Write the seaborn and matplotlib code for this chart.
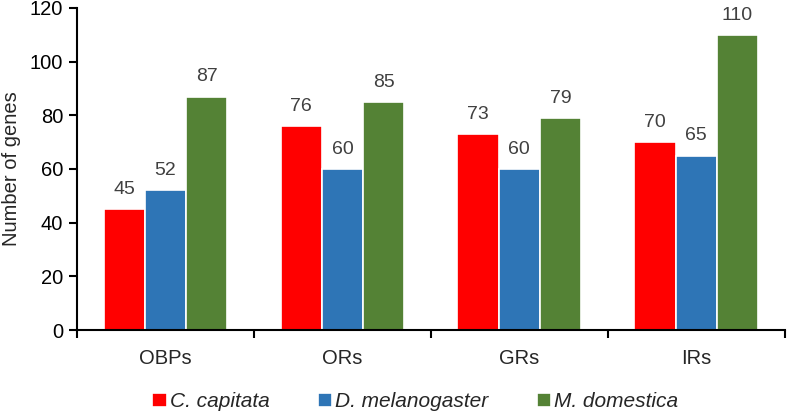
import numpy as np
import pandas as pd
import matplotlib.pyplot as plt
import seaborn as sns

families = ["OBPs", "ORs", "GRs", "IRs"]
species = ["C. capitata", "D. melanogaster", "M. domestica"]
c_capitata = [45, 76, 73, 70]
d_melanogaster = [52, 60, 60, 65]
m_domestica = [87, 85, 79, 110]

COLORS = ["#FF0000", "#2E75B6", "#548235"]

df = pd.DataFrame({
    "family": families * 3,
    "species": [species[0]] * 4 + [species[1]] * 4 + [species[2]] * 4,
    "genes": c_capitata + d_melanogaster + m_domestica,
})

sns.set_theme(style="white")
plt.rcParams["font.family"] = ["Liberation Sans", "DejaVu Sans"]

fig = plt.figure(figsize=(7.87, 4.18), dpi=100)
ax = fig.add_axes([0.098, 0.2105, 0.899, 0.7705])

sns.barplot(data=df, x="family", y="genes", hue="species", order=families,
            hue_order=species, palette=COLORS, width=0.7, ax=ax,
            edgecolor="white", linewidth=1.2, saturation=1)

for cont in ax.containers:
    ax.bar_label(cont, labels=[f"{int(v.get_height())}" for v in cont],
                 padding=8, fontsize=14, color="#404040")

ax.set_ylim(0, 120)
ax.set_xlim(-0.5, 3.5)
ax.set_yticks(range(0, 121, 20))
ax.tick_params(axis="y", labelsize=14.5, length=6, width=1.5, direction="out",
               left=True, color="black", labelcolor="black", pad=4)
ax.set_xticks(range(4))
ax.set_xticklabels(families)
ax.tick_params(axis="x", which="major", length=0, labelsize=14.5, pad=14)
ax.set_xticks(np.arange(-0.5, 4.0, 1.0), minor=True)
ax.tick_params(axis="x", which="minor", length=6, width=1.5, direction="out",
               bottom=True, color="black")
ax.set_xlabel("")
ax.set_ylabel("Number of genes", fontsize=14.5)
ax.yaxis.set_label_coords(-0.098 + 13.5 / 706, 0.5)

for s in ["top", "right"]:
    ax.spines[s].set_visible(False)
for s in ["left", "bottom"]:
    ax.spines[s].set_color("black")
    ax.spines[s].set_linewidth(1.5)

handles, labels = ax.get_legend_handles_labels()
ax.legend(handles, labels, loc="lower center", bbox_to_anchor=(0.478, -0.31),
          ncol=3, frameon=False, prop={"size": 15, "style": "italic"},
          handlelength=0.7, handleheight=0.7, handletextpad=0.15,
          columnspacing=2.3)

plt.savefig("out.png", dpi=100)
plt.close()
